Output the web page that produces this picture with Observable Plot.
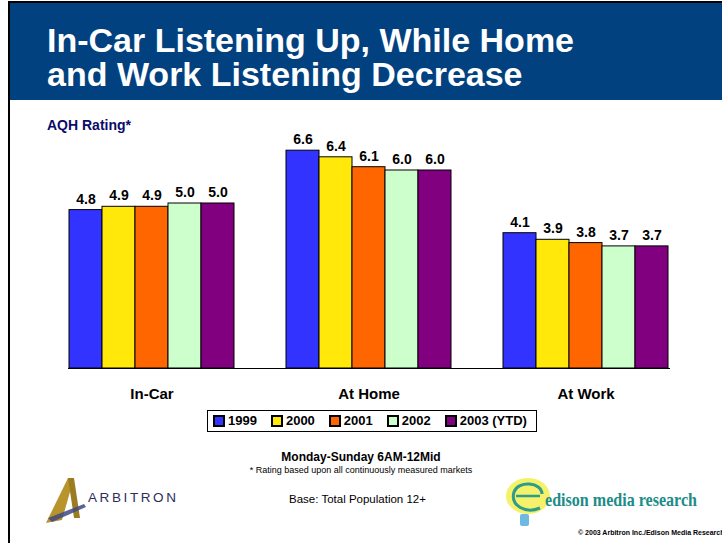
<!DOCTYPE html>
<html><head><meta charset="utf-8">
<script src="https://cdn.jsdelivr.net/npm/d3@7"></script>
<script src="https://cdn.jsdelivr.net/npm/@observablehq/plot@0.6"></script>
<style>
body{margin:0;background:#fff;font-family:Arial,"Liberation Sans",sans-serif;}
#slide{position:relative;width:722px;height:543px;overflow:hidden;background:#fff;}
#leftline{position:absolute;left:8px;top:1px;width:2px;height:542px;background:#000;}
#header{position:absolute;left:8px;top:1px;width:714px;height:99px;background:#02417F;border-top:2px solid #000;border-left:2px solid #000;box-sizing:border-box;}
#title{position:absolute;left:47px;top:23px;color:#fff;font-weight:bold;font-size:34px;line-height:34px;white-space:nowrap;}
#ylabel{position:absolute;left:47px;top:117px;color:#0B0B6B;font-weight:bold;font-size:14px;}
#chart{position:absolute;left:0;top:120px;}
#legend{position:absolute;left:207px;top:410px;width:328px;height:20px;border:1px solid #000;box-sizing:content-box;overflow:hidden;}
#legend > div{min-height:20px !important;height:20px;flex-wrap:nowrap !important;margin:0 !important;padding-left:6px;white-space:nowrap;}
#legend > div > span{margin-right:15px !important;white-space:nowrap !important;flex-shrink:0 !important;}
#legend svg{margin-right:4px !important;flex-shrink:0;}
#legend svg rect{stroke:#000;stroke-width:2px;}
.foot{position:absolute;white-space:nowrap;color:#000;}
</style></head>
<body><div id="slide">
<div id="header"></div>
<div id="leftline"></div>
<div id="title">In-Car Listening Up, While Home<br>and Work Listening Decrease</div>
<div id="ylabel">AQH Rating*</div>
<div id="chart"></div>
<div id="legend"></div>
<div class="foot" style="left:0;width:722px;text-align:center;top:450px;font-weight:bold;font-size:12px;">Monday-Sunday 6AM-12Mid</div>
<div class="foot" style="left:0;width:722px;text-align:center;top:465px;font-size:9px;">* Rating based upon all continuously measured markets</div>
<div class="foot" style="left:289px;top:493px;font-size:11.5px;">Base: Total Population 12+</div>
<svg class="foot" style="left:40px;top:474px" width="150" height="56">
  <polygon points="6,49 28,4 34,4 22,46" fill="#B8952C"/>
  <polygon points="28,4 34,4 40,44 34,44" fill="#9C7C22"/>
  <polygon points="8,44 44,30 46,33 12,48" fill="#3E4A80" opacity="0.85"/>
  <text x="48" y="28" font-family="Arial, Liberation Sans" font-size="13.5" letter-spacing="2.6" fill="#2D2D5A">ARBITRON</text>
</svg>
<svg class="foot" style="left:500px;top:474px" width="210" height="60">
  <ellipse cx="28" cy="22" rx="22" ry="18" fill="#F4F05A" opacity="0.9"/>
  <path d="M42,20 C42,8 18,6 14,18 C10,32 26,40 40,34" fill="none" stroke="#2C9C8C" stroke-width="3"/>
  <path d="M16,22 L40,22" stroke="#2C9C8C" stroke-width="2.5"/>
  <rect x="20" y="40" width="9" height="12" rx="2" fill="#6FB8E0"/>
  <text x="45" y="32" font-family="Liberation Serif, DejaVu Serif, serif" font-weight="bold" font-size="19" textLength="152" lengthAdjust="spacingAndGlyphs" fill="#1E8C88">edison media research</text>
</svg>
<div class="foot" style="left:578px;top:529px;font-size:7px;font-weight:bold;">© 2003 Arbitron Inc./Edison Media Research</div>
</div>
<script>
const categories = ["In-Car", "At Home", "At Work"];
const years = ["1999", "2000", "2001", "2002", "2003 (YTD)"];
const inCar  = [4.8, 4.9, 4.9, 5.0, 5.0];
const atHome = [6.6, 6.4, 6.1, 6.0, 6.0];
const atWork = [4.1, 3.9, 3.8, 3.7, 3.7];
const colors = ["#3333FF", "#FFE80A", "#FF6600", "#CCFFCC", "#800080"];

const series = [inCar, atHome, atWork];
const data = [];
categories.forEach((c, i) => years.forEach((y, j) => data.push({cat: c, year: y, value: series[i][j]})));

const chart = Plot.plot({
  width: 722, height: 290,
  marginTop: 17, marginBottom: 42, marginLeft: 43, marginRight: 22,
  style: {fontFamily: "Arial, 'Liberation Sans', sans-serif", background: "transparent", overflow: "visible"},
  fx: {domain: categories, paddingInner: 0.2304, paddingOuter: 0.129, align: 0.446, label: null, axis: null},
  x: {domain: years, padding: 0, axis: null},
  y: {domain: [0, 7], axis: null},
  color: {domain: years, range: colors},
  marks: [
    Plot.frame({anchor: "bottom", facet: "super", stroke: "#000", strokeWidth: 1}),
    Plot.barY(data, {fx: "cat", x: "year", y: "value", fill: "year", stroke: "#000", strokeWidth: 1}),
    Plot.text(data, {fx: "cat", x: "year", y: "value", text: d => d.value.toFixed(1), dy: -11, fontWeight: "bold", fontSize: 14, fill: "#000"}),
    Plot.axisFx({anchor: "bottom", tickSize: 0, tickPadding: 20, fontSize: 15, fontWeight: "bold", label: null, fill: "#000"})
  ]
});
document.getElementById("chart").appendChild(chart);

const leg = Plot.legend({
  color: {domain: years, range: colors},
  legend: "swatches", swatchSize: 10,
  style: {fontFamily: "Arial, 'Liberation Sans', sans-serif", fontSize: "13px", fontWeight: "bold", color: "#000", marginLeft: "0px", marginTop: "0px", lineHeight: "20px"}
});
document.getElementById("legend").appendChild(leg);
</script>
</body></html>
